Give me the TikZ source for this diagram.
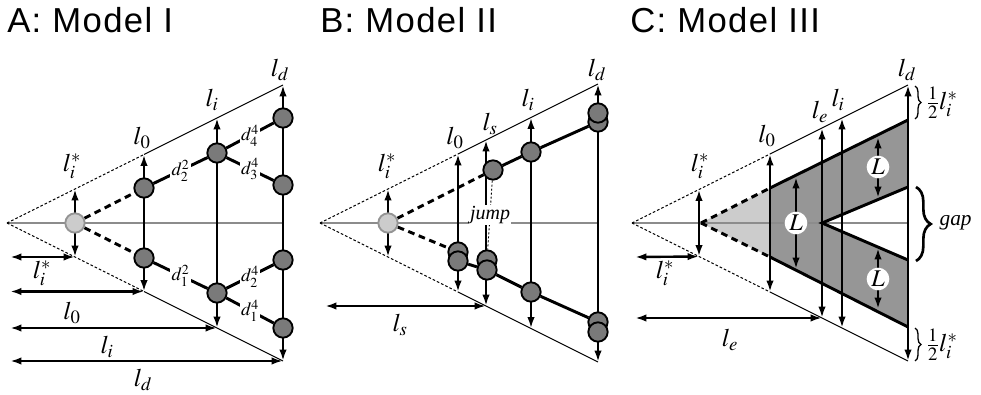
\documentclass[tikz,border=0pt]{standalone}
\usepackage{amsmath,amssymb}
\usepackage{mathptmx}
\usepackage{fontspec}
\setmainfont{Liberation Serif}
\newfontfamily\titlefont{Liberation Sans}[LetterSpace=4.0]
\usetikzlibrary{arrows.meta,decorations.pathreplacing,backgrounds}

\begin{document}
\begin{tikzpicture}[x=0.75pt,y=-0.75pt,
  >={Latex[length=8.5pt,width=5.5pt]},
  bound/.style={line width=0.7pt},
  guess/.style={line width=0.7pt,dash pattern=on 2pt off 1.5pt},
  axisline/.style={line width=0.8pt,black!45},
  dimline/.style={<->,line width=1.8pt},
  branch/.style={line width=2.2pt},
  jumpline/.style={line width=2.2pt,dash pattern=on 5pt off 3.5pt},
  cell/.style={circle,draw,line width=1.4pt,fill=black!52,minimum size=14.5pt,inner sep=0pt},
  seed/.style={circle,draw=black!42,line width=1.4pt,fill=black!20,minimum size=14.5pt,inner sep=0pt},
  lab/.style={inner sep=1pt,font=\fontsize{19}{22}\selectfont},
  sublab/.style={fill=white,inner sep=1pt,font=\fontsize{14}{16}\selectfont},
  Lmark/.style={circle,fill=white,inner sep=0pt,minimum size=17pt,font=\fontsize{18}{20}\selectfont},
  titletext/.style={anchor=base west,inner sep=0pt,font=\titlefont\fontsize{26}{30}\selectfont}]
\useasboundingbox (0,0) rectangle (981,395);

\node[titletext] (ta) at (7,33) {A: Model I};
\node[titletext] (tb) at (320,33) {B: Model II};
\node[titletext] (tc) at (630,33) {C: Model III};

% A
\coordinate (a-apex) at (7,223);
\coordinate (a-end) at (283,223);
\coordinate (a-s-up) at (75,189);
\coordinate (a-s-dn) at (75,257);
\coordinate (a-0-up) at (144,154.5);
\coordinate (a-0-dn) at (144,291.5);
\coordinate (a-i-up) at (217,118);
\coordinate (a-i-dn) at (217,328);
\coordinate (a-d-up) at (283,85);
\coordinate (a-d-dn) at (283,361);
\coordinate (a-h1) at (10,257);
\coordinate (a-h2) at (10,291.5);
\coordinate (a-h3) at (10,328);
\coordinate (a-h4) at (10,361);

\node[seed] (a-seed) at (75,223) {};
\node[cell] (a-0a) at (144,188) {};
\node[cell] (a-0b) at (144,258) {};
\node[cell] (a-ia) at (217,153) {};
\node[cell] (a-ib) at (217,293) {};
\node[cell] (a-da) at (283,118) {};
\node[cell] (a-db) at (283,185) {};
\node[cell] (a-dc) at (283,260) {};
\node[cell] (a-dd) at (283,328) {};

\node[lab] (a-ls) at (72,166) {$l_i^*$};
\node[lab] (a-l0) at (142,138) {$l_0$};
\node[lab] (a-li) at (212,100) {$l_i$};
\node[lab] (a-ld) at (280,70) {$l_d$};
\node[lab] (a-bs) at (42,273) {$l_i^*$};
\node[lab] (a-b0) at (72,313) {$l_0$};
\node[lab] (a-bi) at (107,347) {$l_i$};
\node[lab] (a-bd) at (143,380) {$l_d$};

\begin{scope}[on background layer]
\draw[axisline] (a-apex) -- (a-end);
\draw[guess] (a-apex) -- (a-0-up);
\draw[guess] (a-apex) -- (a-0-dn);
\draw[bound] (a-0-up) -- (a-d-up);
\draw[bound] (a-0-dn) -- (a-d-dn);
\draw[dimline] (a-s-up) -- (a-s-dn);
\draw[dimline] (a-0-up) -- (a-0-dn);
\draw[dimline] (a-i-up) -- (a-i-dn);
\draw[dimline] (a-d-up) -- (a-d-dn);
\draw[dimline] (a-h1) -- (a-s-dn);
\draw[dimline] (a-h2) -- (a-0-dn);
\draw[dimline] (a-h3) -- (a-i-dn);
\draw[dimline] (a-h4) -- (a-d-dn);
\draw[jumpline] (a-seed) -- (a-0a);
\draw[jumpline] (a-seed) -- (a-0b);
\draw[branch] (a-0a) -- node[sublab] {$d_2^2$} (a-ia);
\draw[branch] (a-0b) -- node[sublab] {$d_1^2$} (a-ib);
\draw[branch] (a-ia) -- node[sublab] {$d_4^4$} (a-da);
\draw[branch] (a-ia) -- node[sublab] {$d_3^4$} (a-db);
\draw[branch] (a-ib) -- node[sublab] {$d_2^4$} (a-dc);
\draw[branch] (a-ib) -- node[sublab] {$d_1^4$} (a-dd);
\end{scope}

% B
\coordinate (b-apex) at (320,223);
\coordinate (b-end) at (598,223);
\coordinate (b-s-up) at (388,189);
\coordinate (b-s-dn) at (388,257);
\coordinate (b-0-up) at (458,154);
\coordinate (b-0-dn) at (458,292);
\coordinate (b-j-up) at (486,140);
\coordinate (b-j-dn) at (486,306);
\coordinate (b-i-up) at (531,117.5);
\coordinate (b-i-dn) at (531,328.5);
\coordinate (b-d-up) at (598,84);
\coordinate (b-d-dn) at (598,362);
\coordinate (b-h1) at (325,306);

\node[seed] (b-seed) at (388,223) {};
\node[cell] (b-ja) at (493,170) {};
\node[cell] (b-ia) at (531,152) {};
\node[cell] (b-da2) at (598,122) {};
\node[cell] (b-da1) at (598,113) {};
\node[cell] (b-0a) at (458,252) {};
\node[cell] (b-0b) at (458,261) {};
\node[cell] (b-la) at (487,260) {};
\node[cell] (b-lb) at (487,270) {};
\node[cell] (b-ib) at (531,292) {};
\node[cell] (b-dc) at (598,322) {};
\node[cell] (b-dd) at (598,332) {};

\node[lab] (b-ls) at (387,166) {$l_i^*$};
\node[lab] (b-l0) at (455,138) {$l_0$};
\node[lab] (b-lj) at (490,124) {$l_s$};
\node[lab] (b-li) at (528,100) {$l_i$};
\node[lab] (b-ld) at (597,70) {$l_d$};
\node[lab] (b-bj) at (400,325) {$l_s$};

\begin{scope}[on background layer]
\draw[axisline] (b-apex) -- (b-end);
\draw[guess] (b-apex) -- (b-0-up);
\draw[guess] (b-apex) -- (b-0-dn);
\draw[bound] (b-0-up) -- (b-d-up);
\draw[bound] (b-0-dn) -- (b-d-dn);
\draw[dimline] (b-s-up) -- (b-s-dn);
\draw[dimline] (b-0-up) -- (b-0-dn);
\draw[dimline] (b-j-up) -- (b-j-dn);
\draw[dimline] (b-i-up) -- (b-i-dn);
\draw[dimline] (b-d-up) -- (b-d-dn);
\draw[dimline] (b-h1) -- (b-j-dn);
\draw[jumpline] (b-seed) -- (b-ja);
\draw[jumpline] (b-seed) -- (b-0a);
\draw[line width=0.7pt,dash pattern=on 1.5pt off 1.5pt] (b-ja) -- node[fill=white,inner sep=1pt,font=\fontsize{15}{17}\selectfont\itshape] {jump} (b-la);
\draw[branch] (b-ja) -- (b-ia) -- (b-da2);
\draw[branch] (b-0b) -- (b-lb) -- (b-ib) -- (b-dc);
\end{scope}

% C
\coordinate (c-apex) at (632,223);
\coordinate (c-end) at (908,223);
\coordinate (c-s-up) at (699,189.5);
\coordinate (c-s-dn) at (699,256.5);
\coordinate (c-0-up) at (770,154);
\coordinate (c-0-dn) at (770,292);
\coordinate (c-e-up) at (822,128);
\coordinate (c-e-dn) at (822,318);
\coordinate (c-i-up) at (842,118);
\coordinate (c-i-dn) at (842,328);
\coordinate (c-d-up) at (908,85);
\coordinate (c-d-dn) at (908,361);
\coordinate (c-tip) at (701,223);
\coordinate (c-p1) at (770,188);
\coordinate (c-p2) at (908,120);
\coordinate (c-p3) at (908,187);
\coordinate (c-fork) at (822,223);
\coordinate (c-p4) at (908,260);
\coordinate (c-p5) at (908,327);
\coordinate (c-p6) at (770,257);
\coordinate (c-h1) at (635,257);
\coordinate (c-h2) at (635,318);

\fill[black!20] (c-tip) -- (c-p1) -- (c-p6) -- cycle;
\fill[black!41] (c-p1) -- (c-p2) -- (c-p3) -- (c-fork) -- (c-p4) -- (c-p5) -- (c-p6) -- cycle;
\draw[axisline] (c-apex) -- (c-end);
\draw[guess] (c-apex) -- (c-0-up);
\draw[guess] (c-apex) -- (c-0-dn);
\draw[bound] (c-0-up) -- (c-d-up);
\draw[bound] (c-0-dn) -- (c-d-dn);
\draw[jumpline] (c-tip) -- (c-p1);
\draw[jumpline] (c-tip) -- (c-p6);
\draw[branch] (c-p1) -- (c-p2);
\draw[branch] (c-p3) -- (c-fork) -- (c-p4);
\draw[branch] (c-p6) -- (c-p5);
\draw[dimline] (c-s-up) -- (c-s-dn);
\draw[dimline] (c-0-up) -- (c-0-dn);
\draw[dimline] (c-e-up) -- (c-e-dn);
\draw[dimline] (c-i-up) -- (c-i-dn);
\draw[dimline] (c-d-up) -- (c-d-dn);
\draw[dimline] (c-h1) -- (c-s-dn);
\draw[dimline] (c-h2) -- (c-e-dn);
\draw[dimline] (796,177) -- (796,269);
\draw[dimline] (878,137) -- (878,198);
\draw[dimline] (878,248) -- (878,309);

\node[Lmark] (c-L1) at (796,223) {$L$};
\node[Lmark] (c-L2) at (878,167) {$L$};
\node[Lmark] (c-L3) at (878,279) {$L$};

\coordinate (c-b1a) at (915,86);
\coordinate (c-b1b) at (915,119);
\coordinate (c-b2a) at (916,187);
\coordinate (c-b2b) at (916,261);
\coordinate (c-b3a) at (915,328);
\coordinate (c-b3b) at (915,361);
\draw[decorate,decoration={brace,amplitude=4.5pt},line width=1pt] (c-b1a) -- (c-b1b);
\draw[decorate,decoration={brace,amplitude=11pt},line width=2pt] (c-b2a) -- (c-b2b);
\draw[decorate,decoration={brace,amplitude=4.5pt},line width=1pt] (c-b3a) -- (c-b3b);

\node[lab,anchor=west] (c-half1) at (925,103) {$\tfrac12 l_i^*$};
\node[lab,anchor=west] (c-half2) at (925,345) {$\tfrac12 l_i^*$};
\node[anchor=west,inner sep=1pt,font=\fontsize{16}{18}\selectfont\itshape] (c-gap) at (938,223) {gap};

\node[lab] (c-ls) at (700,166) {$l_i^*$};
\node[lab] (c-l0) at (767,136) {$l_0$};
\node[lab] (c-le) at (820,112) {$l_e$};
\node[lab] (c-li) at (838,100) {$l_i$};
\node[lab] (c-ld) at (907,70) {$l_d$};
\node[lab] (c-bs) at (665,273) {$l_i^*$};
\node[lab] (c-be) at (730,340) {$l_e$};
\end{tikzpicture}
\end{document}
